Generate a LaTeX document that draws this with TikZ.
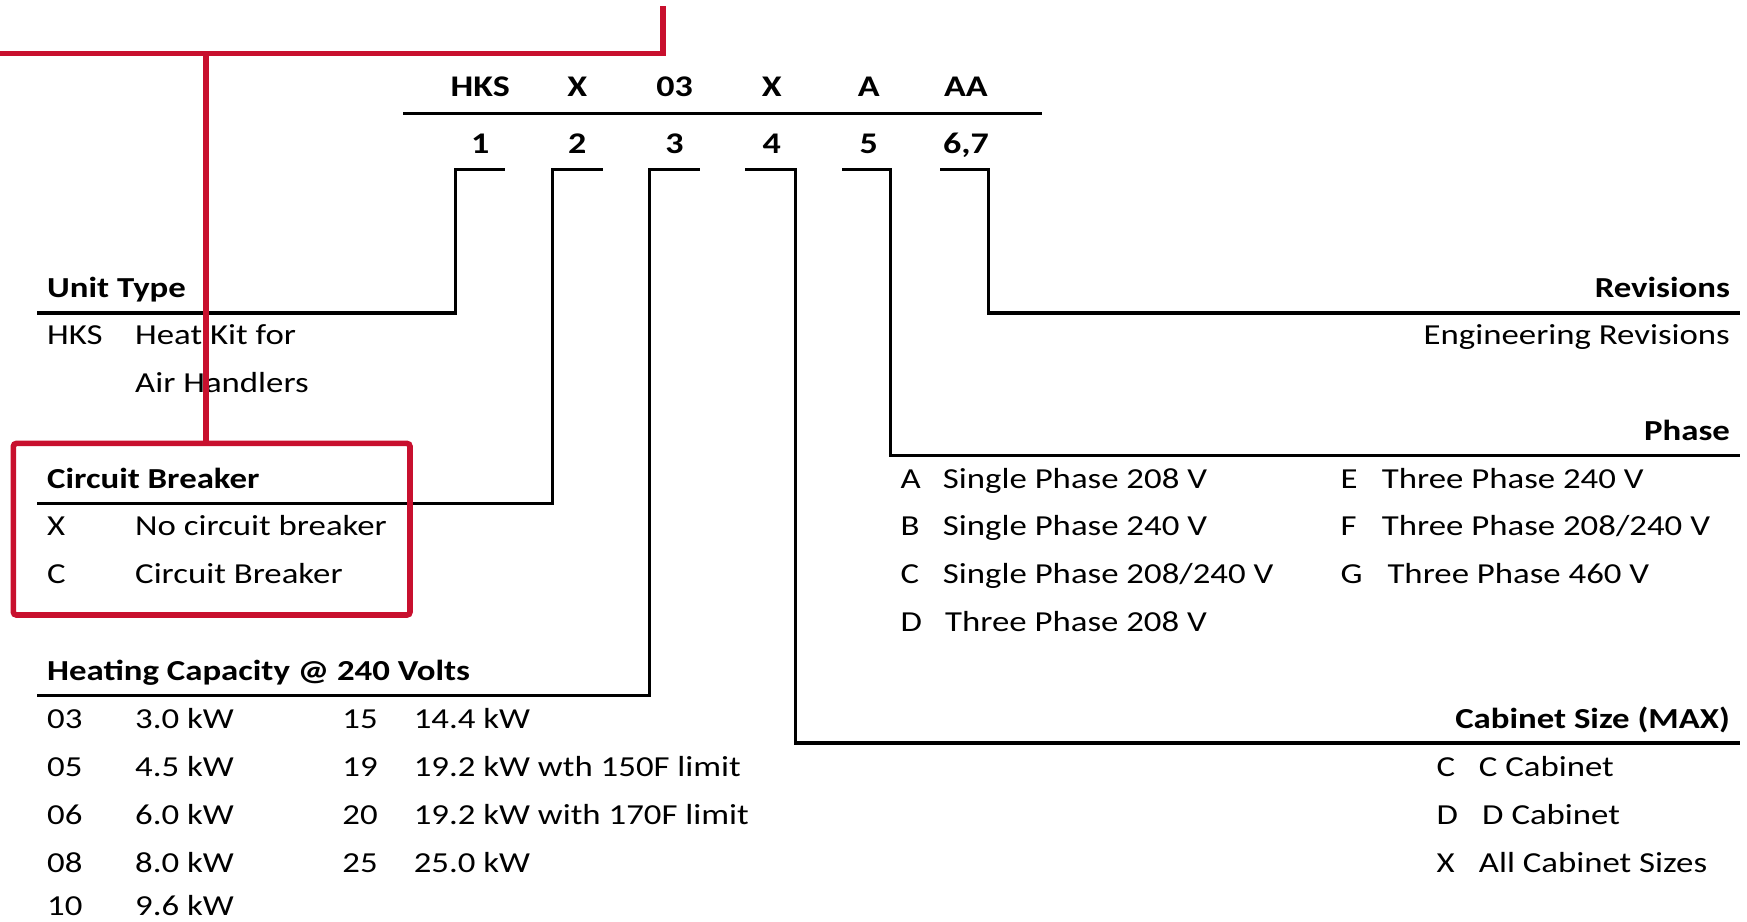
\documentclass[tikz,border=0pt]{standalone}
\usepackage{fontspec}
\setmainfont{Carlito}[FakeStretch=1.2]
\usetikzlibrary{positioning,calc}
\definecolor{MarkRed}{RGB}{200,16,46}
\tikzset{
  hdr/.style={font=\bfseries\fontsize{14.5}{17}\selectfont,inner sep=0pt},
  itm/.style={font=\fontsize{14.5}{17}\selectfont,inner sep=0pt,anchor=base west},
  codebox/.style={font=\bfseries\fontsize{15}{18}\selectfont,inner sep=0pt,anchor=base},
  bar/.style={line width=1.7pt,black,line cap=rect},
  redline/.style={line width=2.8pt,MarkRed,line cap=rect},
}

\begin{document}
\begin{tikzpicture}[x=0.5571pt,y=-0.5571pt]
  \useasboundingbox (0,0) rectangle (1568,827);
  % model number and positions
  \foreach \c/\d [count=\i] in {HKS/1,X/2,03/3,X/4,A/5,AA/{6,7}}{
    \node[codebox] (c\i) at ({343.8+87.2*\i},87) {\c};
    \node[codebox] (d\i) at ({343.8+87.2*\i},138) {\d};
  }
  \coordinate (hl) at (363,102);
  \coordinate (hr) at (934,102);
  \draw[bar] (hl) -- (hr);

  % left side groups
  \node[hdr,anchor=base west] (ut) at (42,267) {Unit Type};
  \node[itm] (ut-c) at (42,309) {HKS};
  \node[itm] (ut-v1) at (121,309) {Heat Kit for};
  \node[itm] (ut-v2) at (121,352) {Air Handlers};

  \node[hdr,anchor=base west] (cb) at (42,438) {Circuit Breaker};
  \node[itm] (cb-c1) at (42,481) {X};
  \node[itm] (cb-v1) at (121,481) {No circuit breaker};
  \node[itm] (cb-c2) at (42,524) {C};
  \node[itm] (cb-v2) at (121,524) {Circuit Breaker};

  \node[hdr,anchor=base west] (hc) at (42,611) {Heating Capacity @ 240 Volts};
  \foreach \c/\v/\y [count=\i] in {03/3.0 kW/654,05/4.5 kW/697,06/6.0 kW/740,
                                   08/8.0 kW/783,10/9.6 kW/822}{
    \node[itm] (hc-c\i) at (42,\y) {\c};
    \node[itm] (hc-v\i) at (121,\y) {\v};
  }
  \foreach \c/\v [count=\i] in {15/14.4 kW,19/19.2 kW wth 150F limit,
                                20/19.2 kW with 170F limit,25/25.0 kW}{
    \node[itm] (hc-c\i b) at (307,{611+43*\i}) {\c};
    \node[itm] (hc-v\i b) at (371,{611+43*\i}) {\v};
  }

  % right side groups
  \node[hdr,anchor=base east] (rev) at (1553,267) {Revisions};
  \node[itm,anchor=base east] (rev-v) at (1553,309) {Engineering Revisions};

  \node[hdr,anchor=base east] (ph) at (1553,395) {Phase};
  \foreach \c/\v/\x [count=\i] in {A/Single Phase 208 V/846,B/Single Phase 240 V/846,
      C/Single Phase 208\slash 240 V/846,D/Three Phase 208 V/848}{
    \node[itm] (ph-c\i) at (808,{395+43*\i}) {\c};
    \node[itm] (ph-v\i) at (\x,{395+43*\i}) {\v};
  }
  \foreach \c/\v/\x [count=\i] in {E/Three Phase 240 V/1240,
      F/Three Phase 208\slash 240 V/1240,G/Three Phase 460 V/1245}{
    \node[itm] (ph-c\i b) at (1203,{395+43*\i}) {\c};
    \node[itm] (ph-v\i b) at (\x,{395+43*\i}) {\v};
  }

  \node[hdr,anchor=base east] (cab) at (1553,654) {Cabinet Size (MAX)};
  \foreach \c/\v/\x [count=\i] in {C/C Cabinet/1327,D/D Cabinet/1330,X/All Cabinet Sizes/1327}{
    \node[itm] (cab-c\i) at (1289,{654+43*\i}) {\c};
    \node[itm] (cab-v\i) at (\x,{654+43*\i}) {\v};
  }

  % leader lines
  \coordinate (t1) at (452,152); \coordinate (u1) at (35,281);
  \coordinate (t2) at (540,152); \coordinate (u2) at (35,452);
  \coordinate (t3) at (627,152); \coordinate (u3) at (35,624);
  \coordinate (t4) at (670,152); \coordinate (u4) at (1560,667);
  \coordinate (t5) at (757,152); \coordinate (u5) at (1560,409);
  \coordinate (t6) at (845,152); \coordinate (u6) at (1560,281);
  \draw[bar] (t1) -- ++(-43,0) |- (u1);
  \draw[bar] (t2) -- ++(-44,0) |- (u2);
  \draw[bar] (t3) -- ++(-44,0) |- (u3);
  \draw[bar] (t4) -- ++(44,0) |- (u4);
  \draw[bar] (t5) -- ++(42,0) |- (u5);
  \draw[bar] (t6) -- ++(42,0) |- (u6);

  % highlight
  \coordinate (r0) at (0,48);
  \coordinate (r1) at (595,5);
  \coordinate (r2) at (185,48);
  \coordinate (bx1) at (12,398);
  \coordinate (bx2) at (368,552);
  \draw[redline,line cap=butt] (r0) -| (r1);
  \draw[redline] (r2) -- (r2 |- bx1);
  \draw[redline,rounded corners=1.5pt] (bx1) rectangle (bx2);
\end{tikzpicture}
\end{document}
